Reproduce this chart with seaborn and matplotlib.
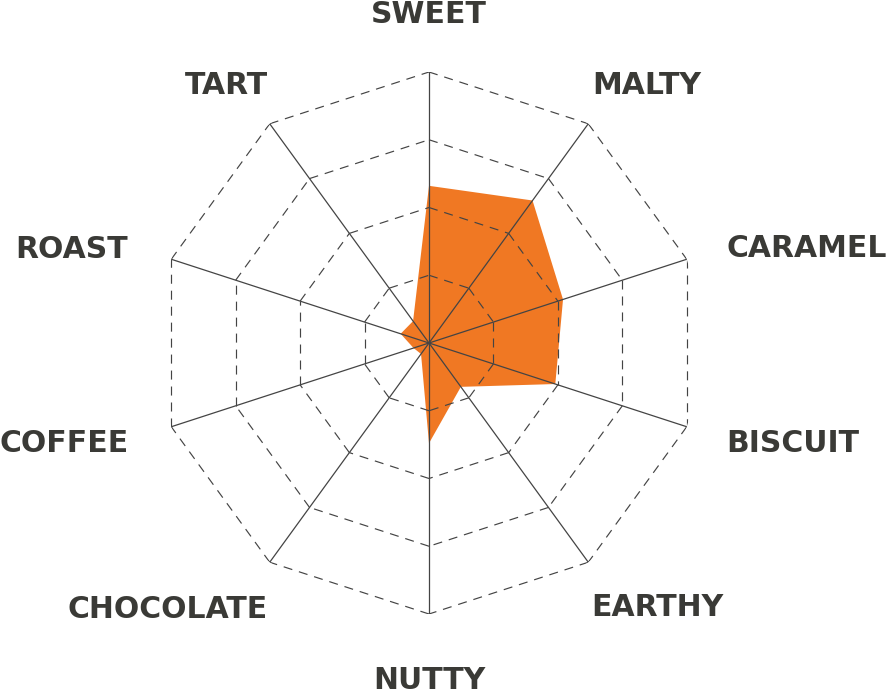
import matplotlib
matplotlib.use("Agg")
import matplotlib.pyplot as plt
import numpy as np
import seaborn as sns

# flavour wheel, clockwise from the top
flavours = ["SWEET", "MALTY", "CARAMEL", "BISCUIT", "EARTHY",
            "NUTTY", "CHOCOLATE", "COFFEE", "ROAST", "TART"]
scores = [58, 65, 52, 49, 20, 37, 5, 6, 11, 10]
ring_levels = [25, 50, 75, 100]

fill_colour = "#F07823"
line_colour = "#444444"
text_colour = "#3a3a36"

sns.set_theme(style="white")
plt.rcParams["font.family"] = ["DejaVu Sans"]
plt.rcParams["lines.scale_dashes"] = False

W, H = 888, 689
cx, cy, R = 429, 343, 271

fig = plt.figure(figsize=(W / 100, H / 100), dpi=100)
ax = fig.add_axes([(cx - R) / W, (H - cy - R) / H, 2 * R / W, 2 * R / H],
                  projection="polar")
ax.set_theta_zero_location("N")
ax.set_theta_direction(-1)
ax.set_ylim(0, 100)
ax.axis("off")

n = len(flavours)
angles = np.linspace(0, 2 * np.pi, n, endpoint=False)

# data polygon
ax.fill(np.append(angles, angles[0]), scores + scores[:1],
        color=fill_colour, lw=0, zorder=1)

# dashed rings, one segment per edge so dashes start at each vertex
for level in ring_levels:
    for i in range(n):
        a0 = angles[i]
        a1 = angles[i + 1] if i + 1 < n else 2 * np.pi
        ax.plot([a0, a1], [level, level], color=line_colour, lw=0.85,
                linestyle=(0, (6.5, 5)), zorder=2)

# spokes
for a in angles:
    ax.plot([a, a], [0, 100], color=line_colour, lw=0.9, zorder=3)

# label offsets from each spoke tip, in pixels (x right, y up to text centre)
label_offsets = [(0, 60), (3.7, 40.8), (40, 13.3), (40, -14), (2.7, -43.3),
                 (0, -64), (-2.4, -44.8), (-42.3, -14.3), (-43.3, 12.3),
                 (-1.7, 40.8)]
label_align = ["center", "left", "left", "left", "left",
               "center", "right", "right", "right", "right"]

half_cap = 10.9
for name, a, (dx, dy), ha in zip(flavours, angles, label_offsets, label_align):
    ax.annotate(name, xy=(a, 100), xytext=(dx, dy - half_cap),
                textcoords="offset pixels", ha=ha, va="baseline",
                fontsize=21.5, fontweight="bold", color=text_colour,
                annotation_clip=False)

fig.savefig("out.png", dpi=100, facecolor="white")
